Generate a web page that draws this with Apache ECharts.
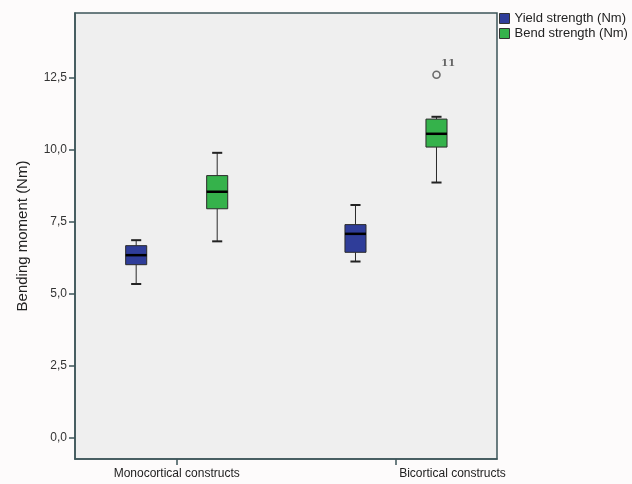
<!DOCTYPE html>
<html><head><meta charset="utf-8">
<script src="https://cdn.jsdelivr.net/npm/echarts@6/dist/echarts.min.js"></script>
<style>html,body{margin:0;padding:0;background:#fdfbfb}#c{width:632px;height:484px}</style>
</head><body><div id="c"></div>
<script>
// ---- data ----
const categories = ['Monocortical constructs', 'Bicortical constructs'];
const seriesNames = ['Yield strength (Nm)', 'Bend strength (Nm)'];
// [min, Q1, median, Q3, max]
const yieldStats = [[5.34, 6.01, 6.34, 6.67, 6.86], [6.12, 6.44, 7.08, 7.40, 8.08]];
const bendStats = [[6.82, 7.95, 8.54, 9.10, 9.89], [8.86, 10.09, 10.55, 11.06, 11.14]];
// [group index, value, case label]
const bendOutliers = [[1, 12.60, '11']];
const yTicks = [0, 2.5, 5, 7.5, 10, 12.5];

// ---- layout ----
const GROUP_OFFSET = 0.1847; // fraction of group spacing
const BOX_W = 0.096;
const CAP_W = 0.046;
const FONT = 'Liberation Sans, Arial, sans-serif';

function makeRender(offset) {
  return function (params, api) {
    const x = api.value(0) + offset;
    const lo = api.coord([x, api.value(1)]);
    const q1 = api.coord([x, api.value(2)]);
    const md = api.coord([x, api.value(3)]);
    const q3 = api.coord([x, api.value(4)]);
    const hi = api.coord([x, api.value(5)]);
    const unit = api.size([1, 0])[0];
    const bw = unit * BOX_W / 2, cw = unit * CAP_W / 2;
    const color = api.visual('color');
    const ls = {stroke: '#2a2a2a', lineWidth: 1};
    return {type: 'group', children: [
      {type: 'line', shape: {x1: lo[0], y1: lo[1], x2: q1[0], y2: q1[1]}, style: ls},
      {type: 'line', shape: {x1: hi[0], y1: hi[1], x2: q3[0], y2: q3[1]}, style: ls},
      {type: 'line', shape: {x1: lo[0] - cw, y1: lo[1], x2: lo[0] + cw, y2: lo[1]}, style: {stroke: '#222', lineWidth: 2}},
      {type: 'line', shape: {x1: hi[0] - cw, y1: hi[1], x2: hi[0] + cw, y2: hi[1]}, style: {stroke: '#222', lineWidth: 2}},
      {type: 'rect', shape: {x: q1[0] - bw, y: q3[1], width: 2 * bw, height: q1[1] - q3[1]},
        style: {fill: color, stroke: '#2a2a2a', lineWidth: 1}},
      {type: 'line', shape: {x1: md[0] - bw, y1: md[1], x2: md[0] + bw, y2: md[1]}, style: {stroke: '#000', lineWidth: 2.5}}
    ]};
  };
}

const toRows = stats => stats.map((s, i) => [i].concat(s));

const option = {
  backgroundColor: '#fdfbfb',
  animation: false,
  grid: {left: 75, right: 135, top: 13, bottom: 25, show: true,
    backgroundColor: '#efefef', borderColor: '#3d5559', borderWidth: 1.5},
  legend: {
    data: seriesNames, orient: 'vertical', left: 499, top: 12, padding: 0,
    itemWidth: 10, itemHeight: 10, itemGap: 2, icon: 'rect',
    itemStyle: {borderColor: '#333', borderWidth: 1},
    textStyle: {fontSize: 13, color: '#222', fontFamily: FONT}
  },
  xAxis: {
    type: 'value', min: -0.4637, max: 1.4606,
    splitLine: {show: false},
    axisLine: {show: true, onZero: false, lineStyle: {color: '#3d5559', width: 1.5}},
    axisTick: {show: true, length: 6, customValues: [0, 1], lineStyle: {color: '#3d5559', width: 1.5}},
    axisLabel: {
      customValues: [0, 1], margin: 9, fontSize: 12, color: '#222', fontFamily: FONT,
      formatter: v => v === 1 ? '{b|' + categories[1] + '}' : categories[Math.round(v)],
      rich: {b: {fontSize: 12, color: '#222', fontFamily: FONT, padding: [0, 0, 0, 113]}}
    }
  },
  yAxis: {
    type: 'value', min: -0.73, max: 14.74,
    name: 'Bending moment (Nm)', nameLocation: 'middle', nameGap: 45,
    nameTextStyle: {fontSize: 15, color: '#222', fontFamily: FONT},
    splitLine: {show: false},
    axisLine: {show: true, onZero: false, lineStyle: {color: '#3d5559', width: 1.5}},
    axisTick: {show: true, length: 6, customValues: yTicks, lineStyle: {color: '#3d5559', width: 1.5}},
    axisLabel: {customValues: yTicks, margin: 8, fontSize: 12, color: '#333', fontFamily: FONT,
      formatter: v => v.toFixed(1).replace('.', ',')}
  },
  series: [
    {name: seriesNames[0], type: 'custom', renderItem: makeRender(-GROUP_OFFSET),
      itemStyle: {color: '#2f3d99'}, encode: {x: 0, y: [1, 2, 3, 4, 5]}, data: toRows(yieldStats)},
    {name: seriesNames[1], type: 'custom', renderItem: makeRender(GROUP_OFFSET),
      itemStyle: {color: '#35b24b'}, encode: {x: 0, y: [1, 2, 3, 4, 5]}, data: toRows(bendStats)},
    {name: 'Outliers', type: 'scatter', symbol: 'circle', symbolSize: 7,
      itemStyle: {color: 'rgba(0,0,0,0)', borderColor: '#4a4a4a', borderWidth: 1.6},
      label: {show: true, position: [9, -12], formatter: p => p.data[2], fontSize: 10,
        fontWeight: 'bold', color: '#444', fontFamily: 'DejaVu Serif, serif'},
      data: bendOutliers.map(o => [o[0] + GROUP_OFFSET, o[1], o[2]])}
  ]
};
const chart = echarts.init(document.getElementById('c'), null, {renderer: 'canvas'});
chart.setOption(option);
</script></body></html>
